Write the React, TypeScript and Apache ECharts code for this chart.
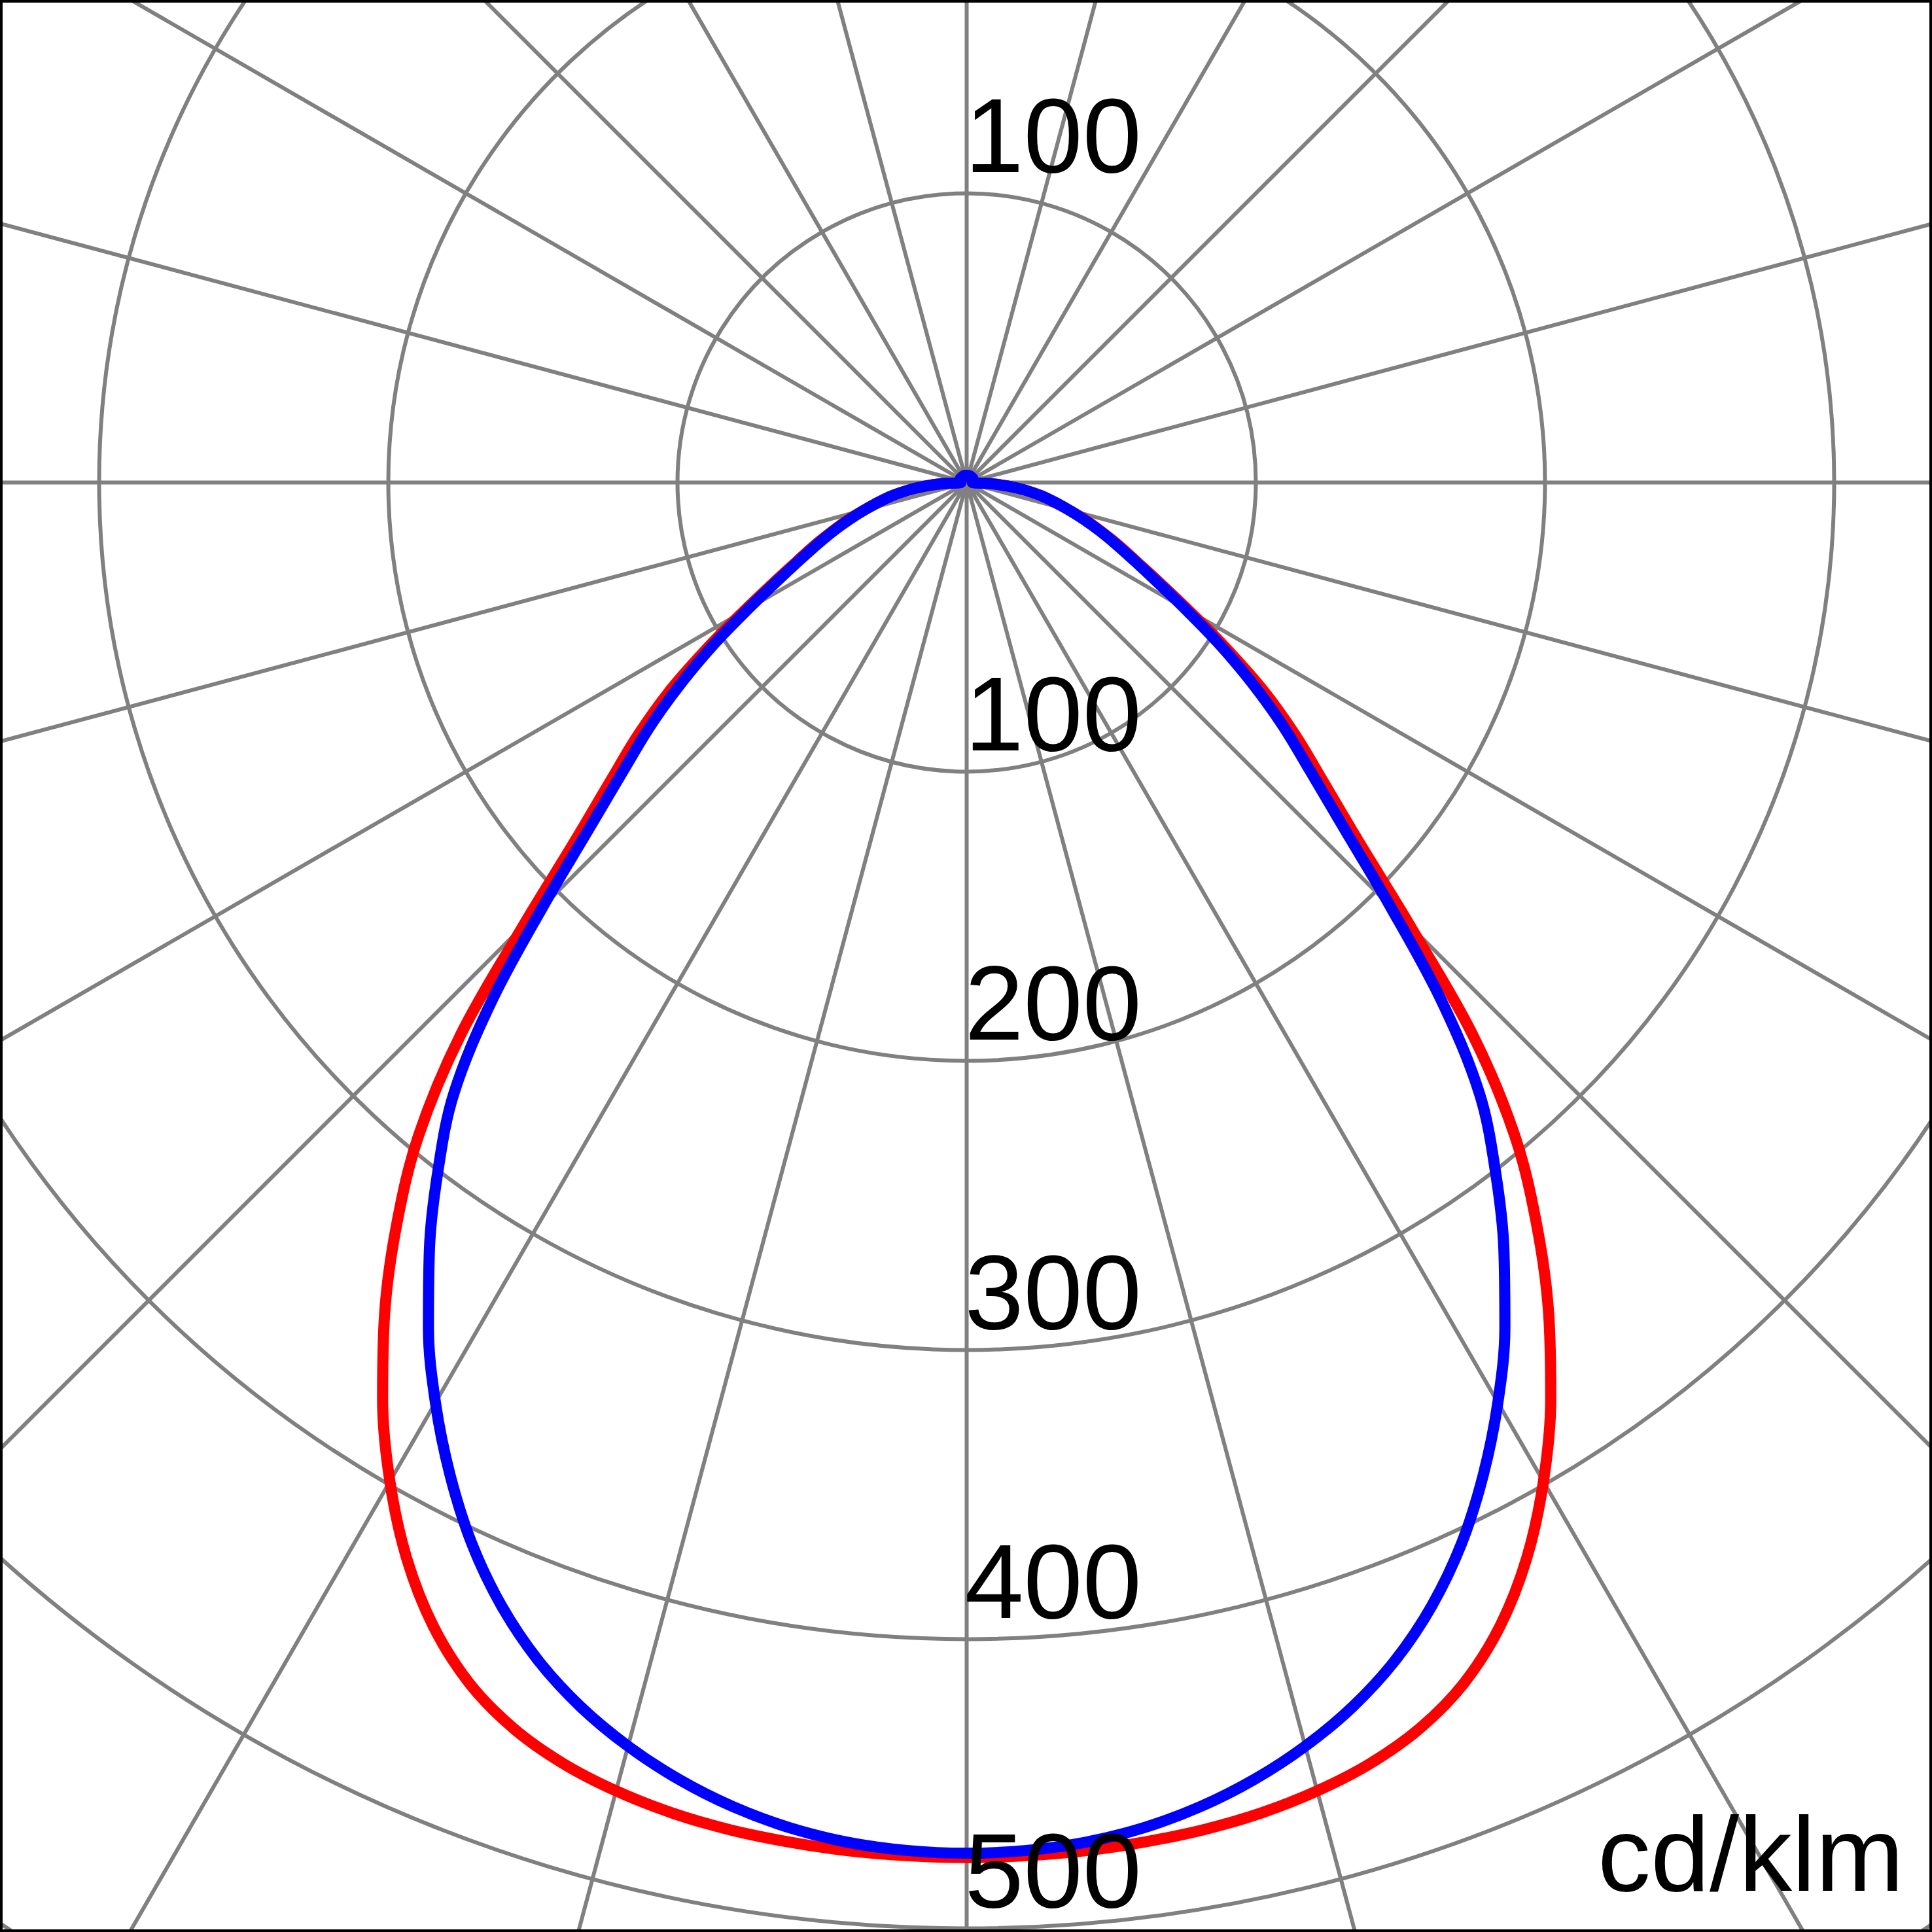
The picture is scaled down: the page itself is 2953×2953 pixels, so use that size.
import React, { useEffect, useRef } from "react";
import * as echarts from "echarts";

// Gamma angles (degrees from nadir) at which the intensities were read
const GAMMA = [
  0, 2.5, 5, 7.5, 10, 12.5, 15, 17.5, 20, 22.5, 25, 27.5, 30, 32.5, 35, 37.5, 40,
  42.5, 45, 47.5, 50, 52.5, 55, 57.5, 60, 62.5, 65, 67.5, 70, 72.5, 75, 77.5, 80,
  82.5, 85, 87.5, 90, 105, 120, 135, 150, 165, 180,
];

// Red curve (cd/klm)
const RED_VALUES = [
  475.5, 475.3, 474.9, 474.1, 473, 471.2, 468.4, 464.4, 458.4, 449.4, 436.4, 419.4,
  398.9, 375.9, 350.9, 323.9, 294.9, 259, 217, 184, 161, 143, 125, 106, 89, 75.5, 65,
  57, 49.5, 43, 36.5, 31, 26, 20.5, 14.5, 8, 2, 2, 2.5, 2.5, 2.5, 2.5, 2.5,
];

// Blue curve (cd/klm)
const BLUE_VALUES = [
  474, 473.5, 472, 469.2, 465, 459.4, 452.4, 443.9, 433.4, 420.4, 404.9, 386.9,
  367.4, 346.4, 323.9, 300.4, 275.9, 243, 207, 177, 155, 137.5, 120, 103, 87, 74, 64,
  56, 49, 42.5, 36.5, 31, 26, 20.5, 14.5, 8, 2, 2, 2.5, 2.5, 2.5, 2.5, 2.5,
];

// Ring value labels (below centre) and the one above the centre
const RING_LABELS = [100, 200, 300, 400, 500];
const TOP_LABELS = [100];
const UNIT_LABEL = "cd/klm";

const FONT = '"Liberation Sans", Arial, Helvetica, sans-serif';

function loop(values: number[]) {
  const right = GAMMA.map((g, i) => [values[i], 360 - g]).reverse();
  const left = GAMMA.map((g, i) => [values[i], g]);
  return [...right, ...left.slice(1)];
}

export default function App() {
  const ref = useRef<HTMLDivElement>(null);
  useEffect(() => {
    if (!ref.current) return;
    const chart = echarts.init(ref.current, undefined, { renderer: "svg" });
    chart.setOption({
      animation: false,
      backgroundColor: "#ffffff",
      polar: { center: [1477.5, 737.5], radius: 3094 },
      angleAxis: {
        type: "value",
        min: 0,
        max: 360,
        interval: 15,
        startAngle: 270,
        clockwise: true,
        axisLine: { show: false },
        axisTick: { show: false },
        axisLabel: { show: false },
        splitLine: { show: true, lineStyle: { color: "#808080", width: 6 } },
      },
      radiusAxis: {
        type: "value",
        min: 0,
        max: 700,
        interval: 100,
        axisLine: { show: false },
        axisTick: { show: false },
        axisLabel: { show: false },
        splitLine: { show: true, lineStyle: { color: "#808080", width: 6 } },
      },
      series: [
        {
          type: "line",
          coordinateSystem: "polar",
          data: loop(RED_VALUES),
          showSymbol: false,
          smooth: 0.35,
          silent: true,
          z: 5,
          lineStyle: { color: "#ff0000", width: 17, join: "round", cap: "round" },
        },
        {
          type: "line",
          coordinateSystem: "polar",
          data: loop(BLUE_VALUES),
          showSymbol: false,
          smooth: 0.35,
          silent: true,
          z: 6,
          lineStyle: { color: "#0000ff", width: 17, join: "round", cap: "round" },
        },
      ],
    });

    const labelPoints = [
      ...RING_LABELS.map((v) => [v, 0]),
      ...TOP_LABELS.map((v) => [v, 180]),
    ];
    const texts = labelPoints.map(([v, a]) => {
      const p = chart.convertToPixel({ polarIndex: 0 } as any, [v, a]) as number[];
      return {
        type: "text",
        x: p[0] - 3,
        y: p[1] - 89,
        z: 100,
        style: {
          text: String(v),
          fill: "#000000",
          fontSize: 162,
          fontFamily: FONT,
          align: "left",
          verticalAlign: "middle",
        },
      };
    });

    chart.setOption({
      graphic: [
        ...texts,
        {
          type: "text",
          x: 2910,
          y: 2833,
          z: 100,
          style: {
            text: UNIT_LABEL,
            fill: "#000000",
            fontSize: 162,
            fontFamily: FONT,
            align: "right",
            verticalAlign: "middle",
          },
        },
        {
          type: "rect",
          z: 100,
          shape: { x: 2, y: 2, width: 2949, height: 2949 },
          style: { fill: "none", stroke: "#000000", lineWidth: 4 },
        },
      ],
    });
    return () => chart.dispose();
  }, []);
  return (
    <div
      ref={ref}
      style={{ position: "absolute", left: 0, top: 0, width: 2953, height: 2953 }}
    />
  );
}
